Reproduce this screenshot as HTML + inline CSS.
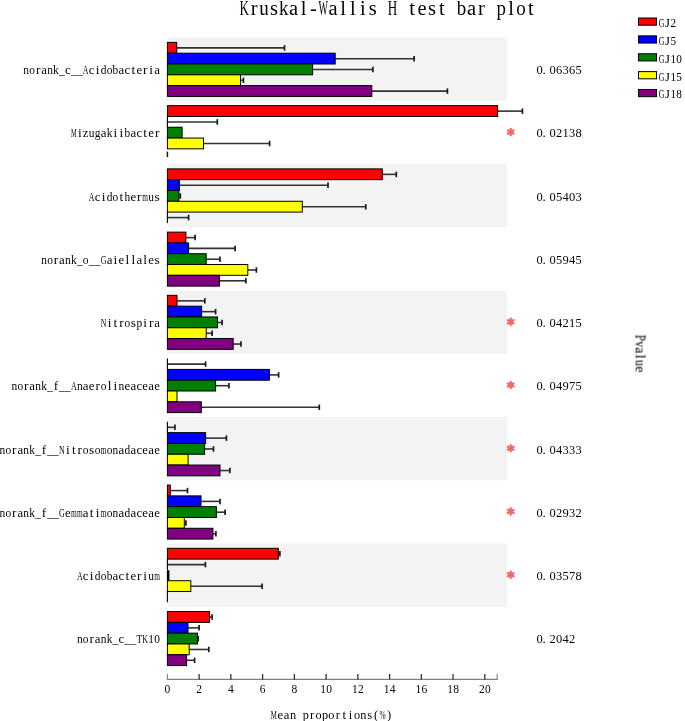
<!DOCTYPE html>
<html><head><meta charset="utf-8"><title>Kruskal-Wallis H test bar plot</title>
<style>html,body{margin:0;padding:0;background:#fff;overflow:hidden}svg{display:block}text{font-family:"Liberation Serif",serif}.t{opacity:0.995}</style>
</head><body>
<svg width="685" height="721" viewBox="0 0 685 721" font-family="Liberation Serif, serif"><rect x="167.40" y="37.60" width="339.60" height="63.24" fill="#f3f3f3"/>
<rect x="167.40" y="164.08" width="339.60" height="63.24" fill="#f3f3f3"/>
<rect x="167.40" y="290.56" width="339.60" height="63.24" fill="#f3f3f3"/>
<rect x="167.40" y="417.04" width="339.60" height="63.24" fill="#f3f3f3"/>
<rect x="167.40" y="543.52" width="339.60" height="63.24" fill="#f3f3f3"/>
<line x1="176.70" y1="47.90" x2="284.50" y2="47.90" stroke="#333" stroke-width="1.6"/>
<line x1="284.50" y1="45.15" x2="284.50" y2="50.65" stroke="#1a1a1a" stroke-width="1.7"/>
<rect x="167.40" y="42.40" width="9.30" height="10.80" fill="#ff0000" stroke="#000" stroke-width="1"/>
<line x1="335.20" y1="58.70" x2="414.10" y2="58.70" stroke="#333" stroke-width="1.6"/>
<line x1="414.10" y1="55.95" x2="414.10" y2="61.45" stroke="#1a1a1a" stroke-width="1.7"/>
<rect x="167.40" y="53.20" width="167.80" height="10.80" fill="#0000ff" stroke="#000" stroke-width="1"/>
<line x1="312.60" y1="69.50" x2="372.90" y2="69.50" stroke="#333" stroke-width="1.6"/>
<line x1="372.90" y1="66.75" x2="372.90" y2="72.25" stroke="#1a1a1a" stroke-width="1.7"/>
<rect x="167.40" y="64.00" width="145.20" height="10.80" fill="#008000" stroke="#000" stroke-width="1"/>
<line x1="240.50" y1="80.30" x2="243.40" y2="80.30" stroke="#333" stroke-width="1.6"/>
<line x1="243.40" y1="77.55" x2="243.40" y2="83.05" stroke="#1a1a1a" stroke-width="1.7"/>
<rect x="167.40" y="74.80" width="73.10" height="10.80" fill="#ffff00" stroke="#000" stroke-width="1"/>
<line x1="371.80" y1="91.10" x2="447.40" y2="91.10" stroke="#333" stroke-width="1.6"/>
<line x1="447.40" y1="88.35" x2="447.40" y2="93.85" stroke="#1a1a1a" stroke-width="1.7"/>
<rect x="167.40" y="85.60" width="204.40" height="10.80" fill="#800080" stroke="#000" stroke-width="1"/>
<line x1="497.60" y1="111.14" x2="522.40" y2="111.14" stroke="#333" stroke-width="1.6"/>
<line x1="522.40" y1="108.39" x2="522.40" y2="113.89" stroke="#1a1a1a" stroke-width="1.7"/>
<rect x="167.40" y="105.64" width="330.20" height="10.80" fill="#ff0000" stroke="#000" stroke-width="1"/>
<line x1="167.40" y1="121.94" x2="217.30" y2="121.94" stroke="#333" stroke-width="1.6"/>
<line x1="217.30" y1="119.19" x2="217.30" y2="124.69" stroke="#1a1a1a" stroke-width="1.7"/>
<line x1="167.40" y1="116.44" x2="167.40" y2="127.24" stroke="#000" stroke-width="1.1"/>
<rect x="167.40" y="127.24" width="14.70" height="10.80" fill="#008000" stroke="#000" stroke-width="1"/>
<line x1="203.50" y1="143.54" x2="269.60" y2="143.54" stroke="#333" stroke-width="1.6"/>
<line x1="269.60" y1="140.79" x2="269.60" y2="146.29" stroke="#1a1a1a" stroke-width="1.7"/>
<rect x="167.40" y="138.04" width="36.10" height="10.80" fill="#ffff00" stroke="#000" stroke-width="1"/>
<line x1="167.40" y1="151.59" x2="167.40" y2="157.09" stroke="#1a1a1a" stroke-width="1.5"/>
<g stroke="#f76666" stroke-width="2.3" stroke-linecap="round"><line x1="510.70" y1="128.86" x2="510.70" y2="135.26"/><line x1="507.93" y1="130.46" x2="513.47" y2="133.66"/><line x1="513.47" y1="130.46" x2="507.93" y2="133.66"/></g>
<line x1="382.30" y1="174.38" x2="396.30" y2="174.38" stroke="#333" stroke-width="1.6"/>
<line x1="396.30" y1="171.63" x2="396.30" y2="177.13" stroke="#1a1a1a" stroke-width="1.7"/>
<rect x="167.40" y="168.88" width="214.90" height="10.80" fill="#ff0000" stroke="#000" stroke-width="1"/>
<line x1="179.40" y1="185.18" x2="328.00" y2="185.18" stroke="#333" stroke-width="1.6"/>
<line x1="328.00" y1="182.43" x2="328.00" y2="187.93" stroke="#1a1a1a" stroke-width="1.7"/>
<rect x="167.40" y="179.68" width="12.00" height="10.80" fill="#0000ff" stroke="#000" stroke-width="1"/>
<line x1="178.90" y1="195.98" x2="180.30" y2="195.98" stroke="#333" stroke-width="1.6"/>
<line x1="180.30" y1="193.23" x2="180.30" y2="198.73" stroke="#1a1a1a" stroke-width="1.7"/>
<rect x="167.40" y="190.48" width="11.50" height="10.80" fill="#008000" stroke="#000" stroke-width="1"/>
<line x1="302.30" y1="206.78" x2="365.80" y2="206.78" stroke="#333" stroke-width="1.6"/>
<line x1="365.80" y1="204.03" x2="365.80" y2="209.53" stroke="#1a1a1a" stroke-width="1.7"/>
<rect x="167.40" y="201.28" width="134.90" height="10.80" fill="#ffff00" stroke="#000" stroke-width="1"/>
<line x1="167.40" y1="217.58" x2="188.60" y2="217.58" stroke="#333" stroke-width="1.6"/>
<line x1="188.60" y1="214.83" x2="188.60" y2="220.33" stroke="#1a1a1a" stroke-width="1.7"/>
<line x1="167.40" y1="212.08" x2="167.40" y2="222.88" stroke="#000" stroke-width="1.1"/>
<line x1="185.90" y1="237.62" x2="195.10" y2="237.62" stroke="#333" stroke-width="1.6"/>
<line x1="195.10" y1="234.87" x2="195.10" y2="240.37" stroke="#1a1a1a" stroke-width="1.7"/>
<rect x="167.40" y="232.12" width="18.50" height="10.80" fill="#ff0000" stroke="#000" stroke-width="1"/>
<line x1="188.60" y1="248.42" x2="235.10" y2="248.42" stroke="#333" stroke-width="1.6"/>
<line x1="235.10" y1="245.67" x2="235.10" y2="251.17" stroke="#1a1a1a" stroke-width="1.7"/>
<rect x="167.40" y="242.92" width="21.20" height="10.80" fill="#0000ff" stroke="#000" stroke-width="1"/>
<line x1="206.20" y1="259.22" x2="220.00" y2="259.22" stroke="#333" stroke-width="1.6"/>
<line x1="220.00" y1="256.47" x2="220.00" y2="261.97" stroke="#1a1a1a" stroke-width="1.7"/>
<rect x="167.40" y="253.72" width="38.80" height="10.80" fill="#008000" stroke="#000" stroke-width="1"/>
<line x1="247.80" y1="270.02" x2="256.40" y2="270.02" stroke="#333" stroke-width="1.6"/>
<line x1="256.40" y1="267.27" x2="256.40" y2="272.77" stroke="#1a1a1a" stroke-width="1.7"/>
<rect x="167.40" y="264.52" width="80.40" height="10.80" fill="#ffff00" stroke="#000" stroke-width="1"/>
<line x1="219.40" y1="280.82" x2="245.90" y2="280.82" stroke="#333" stroke-width="1.6"/>
<line x1="245.90" y1="278.07" x2="245.90" y2="283.57" stroke="#1a1a1a" stroke-width="1.7"/>
<rect x="167.40" y="275.32" width="52.00" height="10.80" fill="#800080" stroke="#000" stroke-width="1"/>
<line x1="177.00" y1="300.86" x2="204.80" y2="300.86" stroke="#333" stroke-width="1.6"/>
<line x1="204.80" y1="298.11" x2="204.80" y2="303.61" stroke="#1a1a1a" stroke-width="1.7"/>
<rect x="167.40" y="295.36" width="9.60" height="10.80" fill="#ff0000" stroke="#000" stroke-width="1"/>
<line x1="201.60" y1="311.66" x2="215.60" y2="311.66" stroke="#333" stroke-width="1.6"/>
<line x1="215.60" y1="308.91" x2="215.60" y2="314.41" stroke="#1a1a1a" stroke-width="1.7"/>
<rect x="167.40" y="306.16" width="34.20" height="10.80" fill="#0000ff" stroke="#000" stroke-width="1"/>
<line x1="217.50" y1="322.46" x2="222.10" y2="322.46" stroke="#333" stroke-width="1.6"/>
<line x1="222.10" y1="319.71" x2="222.10" y2="325.21" stroke="#1a1a1a" stroke-width="1.7"/>
<rect x="167.40" y="316.96" width="50.10" height="10.80" fill="#008000" stroke="#000" stroke-width="1"/>
<line x1="206.20" y1="333.26" x2="212.10" y2="333.26" stroke="#333" stroke-width="1.6"/>
<line x1="212.10" y1="330.51" x2="212.10" y2="336.01" stroke="#1a1a1a" stroke-width="1.7"/>
<rect x="167.40" y="327.76" width="38.80" height="10.80" fill="#ffff00" stroke="#000" stroke-width="1"/>
<line x1="233.20" y1="344.06" x2="241.00" y2="344.06" stroke="#333" stroke-width="1.6"/>
<line x1="241.00" y1="341.31" x2="241.00" y2="346.81" stroke="#1a1a1a" stroke-width="1.7"/>
<rect x="167.40" y="338.56" width="65.80" height="10.80" fill="#800080" stroke="#000" stroke-width="1"/>
<g stroke="#f76666" stroke-width="2.3" stroke-linecap="round"><line x1="510.70" y1="318.58" x2="510.70" y2="324.98"/><line x1="507.93" y1="320.18" x2="513.47" y2="323.38"/><line x1="513.47" y1="320.18" x2="507.93" y2="323.38"/></g>
<line x1="167.40" y1="364.10" x2="205.60" y2="364.10" stroke="#333" stroke-width="1.6"/>
<line x1="205.60" y1="361.35" x2="205.60" y2="366.85" stroke="#1a1a1a" stroke-width="1.7"/>
<line x1="167.40" y1="358.60" x2="167.40" y2="369.40" stroke="#000" stroke-width="1.1"/>
<line x1="269.40" y1="374.90" x2="278.60" y2="374.90" stroke="#333" stroke-width="1.6"/>
<line x1="278.60" y1="372.15" x2="278.60" y2="377.65" stroke="#1a1a1a" stroke-width="1.7"/>
<rect x="167.40" y="369.40" width="102.00" height="10.80" fill="#0000ff" stroke="#000" stroke-width="1"/>
<line x1="215.60" y1="385.70" x2="228.90" y2="385.70" stroke="#333" stroke-width="1.6"/>
<line x1="228.90" y1="382.95" x2="228.90" y2="388.45" stroke="#1a1a1a" stroke-width="1.7"/>
<rect x="167.40" y="380.20" width="48.20" height="10.80" fill="#008000" stroke="#000" stroke-width="1"/>
<rect x="167.40" y="391.00" width="9.60" height="10.80" fill="#ffff00" stroke="#000" stroke-width="1"/>
<line x1="201.30" y1="407.30" x2="319.30" y2="407.30" stroke="#333" stroke-width="1.6"/>
<line x1="319.30" y1="404.55" x2="319.30" y2="410.05" stroke="#1a1a1a" stroke-width="1.7"/>
<rect x="167.40" y="401.80" width="33.90" height="10.80" fill="#800080" stroke="#000" stroke-width="1"/>
<g stroke="#f76666" stroke-width="2.3" stroke-linecap="round"><line x1="510.70" y1="381.82" x2="510.70" y2="388.22"/><line x1="507.93" y1="383.42" x2="513.47" y2="386.62"/><line x1="513.47" y1="383.42" x2="507.93" y2="386.62"/></g>
<line x1="167.40" y1="427.34" x2="174.90" y2="427.34" stroke="#333" stroke-width="1.6"/>
<line x1="174.90" y1="424.59" x2="174.90" y2="430.09" stroke="#1a1a1a" stroke-width="1.7"/>
<line x1="167.40" y1="421.84" x2="167.40" y2="432.64" stroke="#000" stroke-width="1.1"/>
<line x1="205.60" y1="438.14" x2="226.40" y2="438.14" stroke="#333" stroke-width="1.6"/>
<line x1="226.40" y1="435.39" x2="226.40" y2="440.89" stroke="#1a1a1a" stroke-width="1.7"/>
<rect x="167.40" y="432.64" width="38.20" height="10.80" fill="#0000ff" stroke="#000" stroke-width="1"/>
<line x1="204.60" y1="448.94" x2="213.50" y2="448.94" stroke="#333" stroke-width="1.6"/>
<line x1="213.50" y1="446.19" x2="213.50" y2="451.69" stroke="#1a1a1a" stroke-width="1.7"/>
<rect x="167.40" y="443.44" width="37.20" height="10.80" fill="#008000" stroke="#000" stroke-width="1"/>
<rect x="167.40" y="454.24" width="20.70" height="10.80" fill="#ffff00" stroke="#000" stroke-width="1"/>
<line x1="220.00" y1="470.54" x2="229.90" y2="470.54" stroke="#333" stroke-width="1.6"/>
<line x1="229.90" y1="467.79" x2="229.90" y2="473.29" stroke="#1a1a1a" stroke-width="1.7"/>
<rect x="167.40" y="465.04" width="52.60" height="10.80" fill="#800080" stroke="#000" stroke-width="1"/>
<g stroke="#f76666" stroke-width="2.3" stroke-linecap="round"><line x1="510.70" y1="445.06" x2="510.70" y2="451.46"/><line x1="507.93" y1="446.66" x2="513.47" y2="449.86"/><line x1="513.47" y1="446.66" x2="507.93" y2="449.86"/></g>
<line x1="170.30" y1="490.58" x2="187.50" y2="490.58" stroke="#333" stroke-width="1.6"/>
<line x1="187.50" y1="487.83" x2="187.50" y2="493.33" stroke="#1a1a1a" stroke-width="1.7"/>
<rect x="167.40" y="485.08" width="2.90" height="10.80" fill="#ff0000" stroke="#000" stroke-width="1"/>
<line x1="201.00" y1="501.38" x2="220.00" y2="501.38" stroke="#333" stroke-width="1.6"/>
<line x1="220.00" y1="498.63" x2="220.00" y2="504.13" stroke="#1a1a1a" stroke-width="1.7"/>
<rect x="167.40" y="495.88" width="33.60" height="10.80" fill="#0000ff" stroke="#000" stroke-width="1"/>
<line x1="216.40" y1="512.18" x2="225.10" y2="512.18" stroke="#333" stroke-width="1.6"/>
<line x1="225.10" y1="509.43" x2="225.10" y2="514.93" stroke="#1a1a1a" stroke-width="1.7"/>
<rect x="167.40" y="506.68" width="49.00" height="10.80" fill="#008000" stroke="#000" stroke-width="1"/>
<line x1="184.30" y1="522.98" x2="185.90" y2="522.98" stroke="#333" stroke-width="1.6"/>
<line x1="185.90" y1="520.23" x2="185.90" y2="525.73" stroke="#1a1a1a" stroke-width="1.7"/>
<rect x="167.40" y="517.48" width="16.90" height="10.80" fill="#ffff00" stroke="#000" stroke-width="1"/>
<line x1="212.90" y1="533.78" x2="215.90" y2="533.78" stroke="#333" stroke-width="1.6"/>
<line x1="215.90" y1="531.03" x2="215.90" y2="536.53" stroke="#1a1a1a" stroke-width="1.7"/>
<rect x="167.40" y="528.28" width="45.50" height="10.80" fill="#800080" stroke="#000" stroke-width="1"/>
<g stroke="#f76666" stroke-width="2.3" stroke-linecap="round"><line x1="510.70" y1="508.30" x2="510.70" y2="514.70"/><line x1="507.93" y1="509.90" x2="513.47" y2="513.10"/><line x1="513.47" y1="509.90" x2="507.93" y2="513.10"/></g>
<line x1="278.30" y1="553.82" x2="279.90" y2="553.82" stroke="#333" stroke-width="1.6"/>
<line x1="279.90" y1="551.07" x2="279.90" y2="556.57" stroke="#1a1a1a" stroke-width="1.7"/>
<rect x="167.40" y="548.32" width="110.90" height="10.80" fill="#ff0000" stroke="#000" stroke-width="1"/>
<line x1="167.40" y1="564.62" x2="205.40" y2="564.62" stroke="#333" stroke-width="1.6"/>
<line x1="205.40" y1="561.87" x2="205.40" y2="567.37" stroke="#1a1a1a" stroke-width="1.7"/>
<line x1="167.40" y1="559.12" x2="167.40" y2="569.92" stroke="#000" stroke-width="1.1"/>
<rect x="166.90" y="570.22" width="2.50" height="10.20" fill="#000"/>
<line x1="190.80" y1="586.22" x2="262.10" y2="586.22" stroke="#333" stroke-width="1.6"/>
<line x1="262.10" y1="583.47" x2="262.10" y2="588.97" stroke="#1a1a1a" stroke-width="1.7"/>
<rect x="167.40" y="580.72" width="23.40" height="10.80" fill="#ffff00" stroke="#000" stroke-width="1"/>
<line x1="167.40" y1="591.52" x2="167.40" y2="602.32" stroke="#000" stroke-width="1.1"/>
<g stroke="#f76666" stroke-width="2.3" stroke-linecap="round"><line x1="510.70" y1="571.54" x2="510.70" y2="577.94"/><line x1="507.93" y1="573.14" x2="513.47" y2="576.34"/><line x1="513.47" y1="573.14" x2="507.93" y2="576.34"/></g>
<line x1="209.60" y1="617.06" x2="212.10" y2="617.06" stroke="#333" stroke-width="1.6"/>
<line x1="212.10" y1="614.31" x2="212.10" y2="619.81" stroke="#1a1a1a" stroke-width="1.7"/>
<rect x="167.40" y="611.56" width="42.20" height="10.80" fill="#ff0000" stroke="#000" stroke-width="1"/>
<line x1="188.00" y1="627.86" x2="199.10" y2="627.86" stroke="#333" stroke-width="1.6"/>
<line x1="199.10" y1="625.11" x2="199.10" y2="630.61" stroke="#1a1a1a" stroke-width="1.7"/>
<rect x="167.40" y="622.36" width="20.60" height="10.80" fill="#0000ff" stroke="#000" stroke-width="1"/>
<line x1="197.50" y1="638.66" x2="198.20" y2="638.66" stroke="#333" stroke-width="1.6"/>
<line x1="198.20" y1="635.91" x2="198.20" y2="641.41" stroke="#1a1a1a" stroke-width="1.7"/>
<rect x="167.40" y="633.16" width="30.10" height="10.80" fill="#008000" stroke="#000" stroke-width="1"/>
<line x1="189.20" y1="649.46" x2="208.80" y2="649.46" stroke="#333" stroke-width="1.6"/>
<line x1="208.80" y1="646.71" x2="208.80" y2="652.21" stroke="#1a1a1a" stroke-width="1.7"/>
<rect x="167.40" y="643.96" width="21.80" height="10.80" fill="#ffff00" stroke="#000" stroke-width="1"/>
<line x1="186.60" y1="660.26" x2="194.60" y2="660.26" stroke="#333" stroke-width="1.6"/>
<line x1="194.60" y1="657.51" x2="194.60" y2="663.01" stroke="#1a1a1a" stroke-width="1.7"/>
<rect x="167.40" y="654.76" width="19.20" height="10.80" fill="#800080" stroke="#000" stroke-width="1"/>
<line x1="166.90" y1="679.40" x2="497.60" y2="679.40" stroke="#808080" stroke-width="1.1"/>
<line x1="167.40" y1="674.00" x2="167.40" y2="679.40" stroke="#808080" stroke-width="1.1"/>
<line x1="497.20" y1="674.00" x2="497.20" y2="679.40" stroke="#808080" stroke-width="1.1"/>
<line x1="199.14" y1="674.00" x2="199.14" y2="679.40" stroke="#222" stroke-width="1.2"/>
<line x1="230.88" y1="674.00" x2="230.88" y2="679.40" stroke="#222" stroke-width="1.2"/>
<line x1="262.62" y1="674.00" x2="262.62" y2="679.40" stroke="#222" stroke-width="1.2"/>
<line x1="294.36" y1="674.00" x2="294.36" y2="679.40" stroke="#222" stroke-width="1.2"/>
<line x1="326.10" y1="674.00" x2="326.10" y2="679.40" stroke="#222" stroke-width="1.2"/>
<line x1="357.84" y1="674.00" x2="357.84" y2="679.40" stroke="#222" stroke-width="1.2"/>
<line x1="389.58" y1="674.00" x2="389.58" y2="679.40" stroke="#222" stroke-width="1.2"/>
<line x1="421.32" y1="674.00" x2="421.32" y2="679.40" stroke="#222" stroke-width="1.2"/>
<line x1="453.06" y1="674.00" x2="453.06" y2="679.40" stroke="#222" stroke-width="1.2"/>
<line x1="484.80" y1="674.00" x2="484.80" y2="679.40" stroke="#222" stroke-width="1.2"/>
<rect x="638.5" y="18.00" width="18" height="7.2" fill="#ff0000" stroke="#000" stroke-width="1"/>
<rect x="638.5" y="35.87" width="18" height="7.2" fill="#0000ff" stroke="#000" stroke-width="1"/>
<rect x="638.5" y="53.74" width="18" height="7.2" fill="#008000" stroke="#000" stroke-width="1"/>
<rect x="638.5" y="71.61" width="18" height="7.2" fill="#ffff00" stroke="#000" stroke-width="1"/>
<rect x="638.5" y="89.48" width="18" height="7.2" fill="#800080" stroke="#000" stroke-width="1"/>
<g class="t" >
<text x="35.89 95.76 131.46 142.99 149.31" y="74.22" font-size="13.40" fill="#000" >ritri</text><text x="23.37" y="74.22" font-size="13.40" fill="#000" textLength="5.71" lengthAdjust="spacingAndGlyphs" >n</text><text x="29.32" y="74.22" font-size="13.40" fill="#000" textLength="5.71" lengthAdjust="spacingAndGlyphs" >o</text><text x="41.22" y="74.22" font-size="13.40" fill="#000" textLength="5.71" lengthAdjust="spacingAndGlyphs" >a</text><text x="47.17" y="74.22" font-size="13.40" fill="#000" textLength="5.71" lengthAdjust="spacingAndGlyphs" >n</text><text x="53.12" y="74.22" font-size="13.40" fill="#000" textLength="5.71" lengthAdjust="spacingAndGlyphs" >k</text><text x="59.07" y="74.22" font-size="13.40" fill="#000" textLength="5.71" lengthAdjust="spacingAndGlyphs" >_</text><text x="65.02" y="74.22" font-size="13.40" fill="#000" textLength="5.71" lengthAdjust="spacingAndGlyphs" >c</text><text x="70.97" y="74.22" font-size="13.40" fill="#000" textLength="5.71" lengthAdjust="spacingAndGlyphs" >_</text><text x="76.92" y="74.22" font-size="13.40" fill="#000" textLength="5.71" lengthAdjust="spacingAndGlyphs" >_</text><text x="82.87" y="74.22" font-size="13.40" fill="#000" textLength="5.71" lengthAdjust="spacingAndGlyphs" >A</text><text x="88.82" y="74.22" font-size="13.40" fill="#000" textLength="5.71" lengthAdjust="spacingAndGlyphs" >c</text><text x="100.72" y="74.22" font-size="13.40" fill="#000" textLength="5.71" lengthAdjust="spacingAndGlyphs" >d</text><text x="106.67" y="74.22" font-size="13.40" fill="#000" textLength="5.71" lengthAdjust="spacingAndGlyphs" >o</text><text x="112.62" y="74.22" font-size="13.40" fill="#000" textLength="5.71" lengthAdjust="spacingAndGlyphs" >b</text><text x="118.57" y="74.22" font-size="13.40" fill="#000" textLength="5.71" lengthAdjust="spacingAndGlyphs" >a</text><text x="124.52" y="74.22" font-size="13.40" fill="#000" textLength="5.71" lengthAdjust="spacingAndGlyphs" >c</text><text x="136.42" y="74.22" font-size="13.40" fill="#000" textLength="5.71" lengthAdjust="spacingAndGlyphs" >e</text><text x="154.27" y="74.22" font-size="13.40" fill="#000" textLength="5.71" lengthAdjust="spacingAndGlyphs" >a</text>
<text x="542.59" y="74.12" font-size="13.10" fill="#000" >.</text><text x="536.43" y="74.12" font-size="13.10" fill="#000" textLength="6.24" lengthAdjust="spacingAndGlyphs" >0</text><text x="549.43" y="74.12" font-size="13.10" fill="#000" textLength="6.24" lengthAdjust="spacingAndGlyphs" >0</text><text x="555.93" y="74.12" font-size="13.10" fill="#000" textLength="6.24" lengthAdjust="spacingAndGlyphs" >6</text><text x="562.43" y="74.12" font-size="13.10" fill="#000" textLength="6.24" lengthAdjust="spacingAndGlyphs" >3</text><text x="568.93" y="74.12" font-size="13.10" fill="#000" textLength="6.24" lengthAdjust="spacingAndGlyphs" >6</text><text x="575.43" y="74.12" font-size="13.10" fill="#000" textLength="6.24" lengthAdjust="spacingAndGlyphs" >5</text>
<text x="77.91 113.61 119.56 143.36 154.89" y="137.46" font-size="13.40" fill="#000" >iiitr</text><text x="70.97" y="137.46" font-size="13.40" fill="#000" textLength="5.71" lengthAdjust="spacingAndGlyphs" >M</text><text x="82.87" y="137.46" font-size="13.40" fill="#000" textLength="5.71" lengthAdjust="spacingAndGlyphs" >z</text><text x="88.82" y="137.46" font-size="13.40" fill="#000" textLength="5.71" lengthAdjust="spacingAndGlyphs" >u</text><text x="94.77" y="137.46" font-size="13.40" fill="#000" textLength="5.71" lengthAdjust="spacingAndGlyphs" >g</text><text x="100.72" y="137.46" font-size="13.40" fill="#000" textLength="5.71" lengthAdjust="spacingAndGlyphs" >a</text><text x="106.67" y="137.46" font-size="13.40" fill="#000" textLength="5.71" lengthAdjust="spacingAndGlyphs" >k</text><text x="124.52" y="137.46" font-size="13.40" fill="#000" textLength="5.71" lengthAdjust="spacingAndGlyphs" >b</text><text x="130.47" y="137.46" font-size="13.40" fill="#000" textLength="5.71" lengthAdjust="spacingAndGlyphs" >a</text><text x="136.42" y="137.46" font-size="13.40" fill="#000" textLength="5.71" lengthAdjust="spacingAndGlyphs" >c</text><text x="148.32" y="137.46" font-size="13.40" fill="#000" textLength="5.71" lengthAdjust="spacingAndGlyphs" >e</text>
<text x="542.59" y="137.36" font-size="13.10" fill="#000" >.</text><text x="536.43" y="137.36" font-size="13.10" fill="#000" textLength="6.24" lengthAdjust="spacingAndGlyphs" >0</text><text x="549.43" y="137.36" font-size="13.10" fill="#000" textLength="6.24" lengthAdjust="spacingAndGlyphs" >0</text><text x="555.93" y="137.36" font-size="13.10" fill="#000" textLength="6.24" lengthAdjust="spacingAndGlyphs" >2</text><text x="562.43" y="137.36" font-size="13.10" fill="#000" textLength="6.24" lengthAdjust="spacingAndGlyphs" >1</text><text x="568.93" y="137.36" font-size="13.10" fill="#000" textLength="6.24" lengthAdjust="spacingAndGlyphs" >3</text><text x="575.43" y="137.36" font-size="13.10" fill="#000" textLength="6.24" lengthAdjust="spacingAndGlyphs" >8</text>
<text x="101.71 119.56 137.04 154.52" y="200.70" font-size="13.40" fill="#000" >itrs</text><text x="88.82" y="200.70" font-size="13.40" fill="#000" textLength="5.71" lengthAdjust="spacingAndGlyphs" >A</text><text x="94.77" y="200.70" font-size="13.40" fill="#000" textLength="5.71" lengthAdjust="spacingAndGlyphs" >c</text><text x="106.67" y="200.70" font-size="13.40" fill="#000" textLength="5.71" lengthAdjust="spacingAndGlyphs" >d</text><text x="112.62" y="200.70" font-size="13.40" fill="#000" textLength="5.71" lengthAdjust="spacingAndGlyphs" >o</text><text x="124.52" y="200.70" font-size="13.40" fill="#000" textLength="5.71" lengthAdjust="spacingAndGlyphs" >h</text><text x="130.47" y="200.70" font-size="13.40" fill="#000" textLength="5.71" lengthAdjust="spacingAndGlyphs" >e</text><text x="142.37" y="200.70" font-size="13.40" fill="#000" textLength="5.71" lengthAdjust="spacingAndGlyphs" >m</text><text x="148.32" y="200.70" font-size="13.40" fill="#000" textLength="5.71" lengthAdjust="spacingAndGlyphs" >u</text>
<text x="542.59" y="200.60" font-size="13.10" fill="#000" >.</text><text x="536.43" y="200.60" font-size="13.10" fill="#000" textLength="6.24" lengthAdjust="spacingAndGlyphs" >0</text><text x="549.43" y="200.60" font-size="13.10" fill="#000" textLength="6.24" lengthAdjust="spacingAndGlyphs" >0</text><text x="555.93" y="200.60" font-size="13.10" fill="#000" textLength="6.24" lengthAdjust="spacingAndGlyphs" >5</text><text x="562.43" y="200.60" font-size="13.10" fill="#000" textLength="6.24" lengthAdjust="spacingAndGlyphs" >4</text><text x="568.93" y="200.60" font-size="13.10" fill="#000" textLength="6.24" lengthAdjust="spacingAndGlyphs" >0</text><text x="575.43" y="200.60" font-size="13.10" fill="#000" textLength="6.24" lengthAdjust="spacingAndGlyphs" >3</text>
<text x="53.74 113.61 125.51 131.46 143.36 154.52" y="263.94" font-size="13.40" fill="#000" >rillls</text><text x="41.22" y="263.94" font-size="13.40" fill="#000" textLength="5.71" lengthAdjust="spacingAndGlyphs" >n</text><text x="47.17" y="263.94" font-size="13.40" fill="#000" textLength="5.71" lengthAdjust="spacingAndGlyphs" >o</text><text x="59.07" y="263.94" font-size="13.40" fill="#000" textLength="5.71" lengthAdjust="spacingAndGlyphs" >a</text><text x="65.02" y="263.94" font-size="13.40" fill="#000" textLength="5.71" lengthAdjust="spacingAndGlyphs" >n</text><text x="70.97" y="263.94" font-size="13.40" fill="#000" textLength="5.71" lengthAdjust="spacingAndGlyphs" >k</text><text x="76.92" y="263.94" font-size="13.40" fill="#000" textLength="5.71" lengthAdjust="spacingAndGlyphs" >_</text><text x="82.87" y="263.94" font-size="13.40" fill="#000" textLength="5.71" lengthAdjust="spacingAndGlyphs" >o</text><text x="88.82" y="263.94" font-size="13.40" fill="#000" textLength="5.71" lengthAdjust="spacingAndGlyphs" >_</text><text x="94.77" y="263.94" font-size="13.40" fill="#000" textLength="5.71" lengthAdjust="spacingAndGlyphs" >_</text><text x="100.72" y="263.94" font-size="13.40" fill="#000" textLength="5.71" lengthAdjust="spacingAndGlyphs" >G</text><text x="106.67" y="263.94" font-size="13.40" fill="#000" textLength="5.71" lengthAdjust="spacingAndGlyphs" >a</text><text x="118.57" y="263.94" font-size="13.40" fill="#000" textLength="5.71" lengthAdjust="spacingAndGlyphs" >e</text><text x="136.42" y="263.94" font-size="13.40" fill="#000" textLength="5.71" lengthAdjust="spacingAndGlyphs" >a</text><text x="148.32" y="263.94" font-size="13.40" fill="#000" textLength="5.71" lengthAdjust="spacingAndGlyphs" >e</text>
<text x="542.59" y="263.84" font-size="13.10" fill="#000" >.</text><text x="536.43" y="263.84" font-size="13.10" fill="#000" textLength="6.24" lengthAdjust="spacingAndGlyphs" >0</text><text x="549.43" y="263.84" font-size="13.10" fill="#000" textLength="6.24" lengthAdjust="spacingAndGlyphs" >0</text><text x="555.93" y="263.84" font-size="13.10" fill="#000" textLength="6.24" lengthAdjust="spacingAndGlyphs" >5</text><text x="562.43" y="263.84" font-size="13.10" fill="#000" textLength="6.24" lengthAdjust="spacingAndGlyphs" >9</text><text x="568.93" y="263.84" font-size="13.10" fill="#000" textLength="6.24" lengthAdjust="spacingAndGlyphs" >4</text><text x="575.43" y="263.84" font-size="13.10" fill="#000" textLength="6.24" lengthAdjust="spacingAndGlyphs" >5</text>
<text x="107.66 113.61 119.19 130.72 143.36 148.94" y="327.18" font-size="13.40" fill="#000" >itrsir</text><text x="100.72" y="327.18" font-size="13.40" fill="#000" textLength="5.71" lengthAdjust="spacingAndGlyphs" >N</text><text x="124.52" y="327.18" font-size="13.40" fill="#000" textLength="5.71" lengthAdjust="spacingAndGlyphs" >o</text><text x="136.42" y="327.18" font-size="13.40" fill="#000" textLength="5.71" lengthAdjust="spacingAndGlyphs" >p</text><text x="154.27" y="327.18" font-size="13.40" fill="#000" textLength="5.71" lengthAdjust="spacingAndGlyphs" >a</text>
<text x="542.59" y="327.08" font-size="13.10" fill="#000" >.</text><text x="536.43" y="327.08" font-size="13.10" fill="#000" textLength="6.24" lengthAdjust="spacingAndGlyphs" >0</text><text x="549.43" y="327.08" font-size="13.10" fill="#000" textLength="6.24" lengthAdjust="spacingAndGlyphs" >0</text><text x="555.93" y="327.08" font-size="13.10" fill="#000" textLength="6.24" lengthAdjust="spacingAndGlyphs" >4</text><text x="562.43" y="327.08" font-size="13.10" fill="#000" textLength="6.24" lengthAdjust="spacingAndGlyphs" >2</text><text x="568.93" y="327.08" font-size="13.10" fill="#000" textLength="6.24" lengthAdjust="spacingAndGlyphs" >1</text><text x="575.43" y="327.08" font-size="13.10" fill="#000" textLength="6.24" lengthAdjust="spacingAndGlyphs" >5</text>
<text x="23.99 53.74 95.39 107.66 113.61" y="390.42" font-size="13.40" fill="#000" >rfrli</text><text x="11.47" y="390.42" font-size="13.40" fill="#000" textLength="5.71" lengthAdjust="spacingAndGlyphs" >n</text><text x="17.42" y="390.42" font-size="13.40" fill="#000" textLength="5.71" lengthAdjust="spacingAndGlyphs" >o</text><text x="29.32" y="390.42" font-size="13.40" fill="#000" textLength="5.71" lengthAdjust="spacingAndGlyphs" >a</text><text x="35.27" y="390.42" font-size="13.40" fill="#000" textLength="5.71" lengthAdjust="spacingAndGlyphs" >n</text><text x="41.22" y="390.42" font-size="13.40" fill="#000" textLength="5.71" lengthAdjust="spacingAndGlyphs" >k</text><text x="47.17" y="390.42" font-size="13.40" fill="#000" textLength="5.71" lengthAdjust="spacingAndGlyphs" >_</text><text x="59.07" y="390.42" font-size="13.40" fill="#000" textLength="5.71" lengthAdjust="spacingAndGlyphs" >_</text><text x="65.02" y="390.42" font-size="13.40" fill="#000" textLength="5.71" lengthAdjust="spacingAndGlyphs" >_</text><text x="70.97" y="390.42" font-size="13.40" fill="#000" textLength="5.71" lengthAdjust="spacingAndGlyphs" >A</text><text x="76.92" y="390.42" font-size="13.40" fill="#000" textLength="5.71" lengthAdjust="spacingAndGlyphs" >n</text><text x="82.87" y="390.42" font-size="13.40" fill="#000" textLength="5.71" lengthAdjust="spacingAndGlyphs" >a</text><text x="88.82" y="390.42" font-size="13.40" fill="#000" textLength="5.71" lengthAdjust="spacingAndGlyphs" >e</text><text x="100.72" y="390.42" font-size="13.40" fill="#000" textLength="5.71" lengthAdjust="spacingAndGlyphs" >o</text><text x="118.57" y="390.42" font-size="13.40" fill="#000" textLength="5.71" lengthAdjust="spacingAndGlyphs" >n</text><text x="124.52" y="390.42" font-size="13.40" fill="#000" textLength="5.71" lengthAdjust="spacingAndGlyphs" >e</text><text x="130.47" y="390.42" font-size="13.40" fill="#000" textLength="5.71" lengthAdjust="spacingAndGlyphs" >a</text><text x="136.42" y="390.42" font-size="13.40" fill="#000" textLength="5.71" lengthAdjust="spacingAndGlyphs" >c</text><text x="142.37" y="390.42" font-size="13.40" fill="#000" textLength="5.71" lengthAdjust="spacingAndGlyphs" >e</text><text x="148.32" y="390.42" font-size="13.40" fill="#000" textLength="5.71" lengthAdjust="spacingAndGlyphs" >a</text><text x="154.27" y="390.42" font-size="13.40" fill="#000" textLength="5.71" lengthAdjust="spacingAndGlyphs" >e</text>
<text x="542.59" y="390.32" font-size="13.10" fill="#000" >.</text><text x="536.43" y="390.32" font-size="13.10" fill="#000" textLength="6.24" lengthAdjust="spacingAndGlyphs" >0</text><text x="549.43" y="390.32" font-size="13.10" fill="#000" textLength="6.24" lengthAdjust="spacingAndGlyphs" >0</text><text x="555.93" y="390.32" font-size="13.10" fill="#000" textLength="6.24" lengthAdjust="spacingAndGlyphs" >4</text><text x="562.43" y="390.32" font-size="13.10" fill="#000" textLength="6.24" lengthAdjust="spacingAndGlyphs" >9</text><text x="568.93" y="390.32" font-size="13.10" fill="#000" textLength="6.24" lengthAdjust="spacingAndGlyphs" >7</text><text x="575.43" y="390.32" font-size="13.10" fill="#000" textLength="6.24" lengthAdjust="spacingAndGlyphs" >5</text>
<text x="12.09 41.84 66.01 71.96 77.54 89.07" y="453.66" font-size="13.40" fill="#000" >rfitrs</text><text x="-0.43" y="453.66" font-size="13.40" fill="#000" textLength="5.71" lengthAdjust="spacingAndGlyphs" >n</text><text x="5.52" y="453.66" font-size="13.40" fill="#000" textLength="5.71" lengthAdjust="spacingAndGlyphs" >o</text><text x="17.42" y="453.66" font-size="13.40" fill="#000" textLength="5.71" lengthAdjust="spacingAndGlyphs" >a</text><text x="23.37" y="453.66" font-size="13.40" fill="#000" textLength="5.71" lengthAdjust="spacingAndGlyphs" >n</text><text x="29.32" y="453.66" font-size="13.40" fill="#000" textLength="5.71" lengthAdjust="spacingAndGlyphs" >k</text><text x="35.27" y="453.66" font-size="13.40" fill="#000" textLength="5.71" lengthAdjust="spacingAndGlyphs" >_</text><text x="47.17" y="453.66" font-size="13.40" fill="#000" textLength="5.71" lengthAdjust="spacingAndGlyphs" >_</text><text x="53.12" y="453.66" font-size="13.40" fill="#000" textLength="5.71" lengthAdjust="spacingAndGlyphs" >_</text><text x="59.07" y="453.66" font-size="13.40" fill="#000" textLength="5.71" lengthAdjust="spacingAndGlyphs" >N</text><text x="82.87" y="453.66" font-size="13.40" fill="#000" textLength="5.71" lengthAdjust="spacingAndGlyphs" >o</text><text x="94.77" y="453.66" font-size="13.40" fill="#000" textLength="5.71" lengthAdjust="spacingAndGlyphs" >o</text><text x="100.72" y="453.66" font-size="13.40" fill="#000" textLength="5.71" lengthAdjust="spacingAndGlyphs" >m</text><text x="106.67" y="453.66" font-size="13.40" fill="#000" textLength="5.71" lengthAdjust="spacingAndGlyphs" >o</text><text x="112.62" y="453.66" font-size="13.40" fill="#000" textLength="5.71" lengthAdjust="spacingAndGlyphs" >n</text><text x="118.57" y="453.66" font-size="13.40" fill="#000" textLength="5.71" lengthAdjust="spacingAndGlyphs" >a</text><text x="124.52" y="453.66" font-size="13.40" fill="#000" textLength="5.71" lengthAdjust="spacingAndGlyphs" >d</text><text x="130.47" y="453.66" font-size="13.40" fill="#000" textLength="5.71" lengthAdjust="spacingAndGlyphs" >a</text><text x="136.42" y="453.66" font-size="13.40" fill="#000" textLength="5.71" lengthAdjust="spacingAndGlyphs" >c</text><text x="142.37" y="453.66" font-size="13.40" fill="#000" textLength="5.71" lengthAdjust="spacingAndGlyphs" >e</text><text x="148.32" y="453.66" font-size="13.40" fill="#000" textLength="5.71" lengthAdjust="spacingAndGlyphs" >a</text><text x="154.27" y="453.66" font-size="13.40" fill="#000" textLength="5.71" lengthAdjust="spacingAndGlyphs" >e</text>
<text x="542.59" y="453.56" font-size="13.10" fill="#000" >.</text><text x="536.43" y="453.56" font-size="13.10" fill="#000" textLength="6.24" lengthAdjust="spacingAndGlyphs" >0</text><text x="549.43" y="453.56" font-size="13.10" fill="#000" textLength="6.24" lengthAdjust="spacingAndGlyphs" >0</text><text x="555.93" y="453.56" font-size="13.10" fill="#000" textLength="6.24" lengthAdjust="spacingAndGlyphs" >4</text><text x="562.43" y="453.56" font-size="13.10" fill="#000" textLength="6.24" lengthAdjust="spacingAndGlyphs" >3</text><text x="568.93" y="453.56" font-size="13.10" fill="#000" textLength="6.24" lengthAdjust="spacingAndGlyphs" >3</text><text x="575.43" y="453.56" font-size="13.10" fill="#000" textLength="6.24" lengthAdjust="spacingAndGlyphs" >3</text>
<text x="12.09 41.84 89.81 95.76" y="516.90" font-size="13.40" fill="#000" >rfti</text><text x="-0.43" y="516.90" font-size="13.40" fill="#000" textLength="5.71" lengthAdjust="spacingAndGlyphs" >n</text><text x="5.52" y="516.90" font-size="13.40" fill="#000" textLength="5.71" lengthAdjust="spacingAndGlyphs" >o</text><text x="17.42" y="516.90" font-size="13.40" fill="#000" textLength="5.71" lengthAdjust="spacingAndGlyphs" >a</text><text x="23.37" y="516.90" font-size="13.40" fill="#000" textLength="5.71" lengthAdjust="spacingAndGlyphs" >n</text><text x="29.32" y="516.90" font-size="13.40" fill="#000" textLength="5.71" lengthAdjust="spacingAndGlyphs" >k</text><text x="35.27" y="516.90" font-size="13.40" fill="#000" textLength="5.71" lengthAdjust="spacingAndGlyphs" >_</text><text x="47.17" y="516.90" font-size="13.40" fill="#000" textLength="5.71" lengthAdjust="spacingAndGlyphs" >_</text><text x="53.12" y="516.90" font-size="13.40" fill="#000" textLength="5.71" lengthAdjust="spacingAndGlyphs" >_</text><text x="59.07" y="516.90" font-size="13.40" fill="#000" textLength="5.71" lengthAdjust="spacingAndGlyphs" >G</text><text x="65.02" y="516.90" font-size="13.40" fill="#000" textLength="5.71" lengthAdjust="spacingAndGlyphs" >e</text><text x="70.97" y="516.90" font-size="13.40" fill="#000" textLength="5.71" lengthAdjust="spacingAndGlyphs" >m</text><text x="76.92" y="516.90" font-size="13.40" fill="#000" textLength="5.71" lengthAdjust="spacingAndGlyphs" >m</text><text x="82.87" y="516.90" font-size="13.40" fill="#000" textLength="5.71" lengthAdjust="spacingAndGlyphs" >a</text><text x="100.72" y="516.90" font-size="13.40" fill="#000" textLength="5.71" lengthAdjust="spacingAndGlyphs" >m</text><text x="106.67" y="516.90" font-size="13.40" fill="#000" textLength="5.71" lengthAdjust="spacingAndGlyphs" >o</text><text x="112.62" y="516.90" font-size="13.40" fill="#000" textLength="5.71" lengthAdjust="spacingAndGlyphs" >n</text><text x="118.57" y="516.90" font-size="13.40" fill="#000" textLength="5.71" lengthAdjust="spacingAndGlyphs" >a</text><text x="124.52" y="516.90" font-size="13.40" fill="#000" textLength="5.71" lengthAdjust="spacingAndGlyphs" >d</text><text x="130.47" y="516.90" font-size="13.40" fill="#000" textLength="5.71" lengthAdjust="spacingAndGlyphs" >a</text><text x="136.42" y="516.90" font-size="13.40" fill="#000" textLength="5.71" lengthAdjust="spacingAndGlyphs" >c</text><text x="142.37" y="516.90" font-size="13.40" fill="#000" textLength="5.71" lengthAdjust="spacingAndGlyphs" >e</text><text x="148.32" y="516.90" font-size="13.40" fill="#000" textLength="5.71" lengthAdjust="spacingAndGlyphs" >a</text><text x="154.27" y="516.90" font-size="13.40" fill="#000" textLength="5.71" lengthAdjust="spacingAndGlyphs" >e</text>
<text x="542.59" y="516.80" font-size="13.10" fill="#000" >.</text><text x="536.43" y="516.80" font-size="13.10" fill="#000" textLength="6.24" lengthAdjust="spacingAndGlyphs" >0</text><text x="549.43" y="516.80" font-size="13.10" fill="#000" textLength="6.24" lengthAdjust="spacingAndGlyphs" >0</text><text x="555.93" y="516.80" font-size="13.10" fill="#000" textLength="6.24" lengthAdjust="spacingAndGlyphs" >2</text><text x="562.43" y="516.80" font-size="13.10" fill="#000" textLength="6.24" lengthAdjust="spacingAndGlyphs" >9</text><text x="568.93" y="516.80" font-size="13.10" fill="#000" textLength="6.24" lengthAdjust="spacingAndGlyphs" >3</text><text x="575.43" y="516.80" font-size="13.10" fill="#000" textLength="6.24" lengthAdjust="spacingAndGlyphs" >2</text>
<text x="89.81 125.51 137.04 143.36" y="580.14" font-size="13.40" fill="#000" >itri</text><text x="76.92" y="580.14" font-size="13.40" fill="#000" textLength="5.71" lengthAdjust="spacingAndGlyphs" >A</text><text x="82.87" y="580.14" font-size="13.40" fill="#000" textLength="5.71" lengthAdjust="spacingAndGlyphs" >c</text><text x="94.77" y="580.14" font-size="13.40" fill="#000" textLength="5.71" lengthAdjust="spacingAndGlyphs" >d</text><text x="100.72" y="580.14" font-size="13.40" fill="#000" textLength="5.71" lengthAdjust="spacingAndGlyphs" >o</text><text x="106.67" y="580.14" font-size="13.40" fill="#000" textLength="5.71" lengthAdjust="spacingAndGlyphs" >b</text><text x="112.62" y="580.14" font-size="13.40" fill="#000" textLength="5.71" lengthAdjust="spacingAndGlyphs" >a</text><text x="118.57" y="580.14" font-size="13.40" fill="#000" textLength="5.71" lengthAdjust="spacingAndGlyphs" >c</text><text x="130.47" y="580.14" font-size="13.40" fill="#000" textLength="5.71" lengthAdjust="spacingAndGlyphs" >e</text><text x="148.32" y="580.14" font-size="13.40" fill="#000" textLength="5.71" lengthAdjust="spacingAndGlyphs" >u</text><text x="154.27" y="580.14" font-size="13.40" fill="#000" textLength="5.71" lengthAdjust="spacingAndGlyphs" >m</text>
<text x="542.59" y="580.04" font-size="13.10" fill="#000" >.</text><text x="536.43" y="580.04" font-size="13.10" fill="#000" textLength="6.24" lengthAdjust="spacingAndGlyphs" >0</text><text x="549.43" y="580.04" font-size="13.10" fill="#000" textLength="6.24" lengthAdjust="spacingAndGlyphs" >0</text><text x="555.93" y="580.04" font-size="13.10" fill="#000" textLength="6.24" lengthAdjust="spacingAndGlyphs" >3</text><text x="562.43" y="580.04" font-size="13.10" fill="#000" textLength="6.24" lengthAdjust="spacingAndGlyphs" >5</text><text x="568.93" y="580.04" font-size="13.10" fill="#000" textLength="6.24" lengthAdjust="spacingAndGlyphs" >7</text><text x="575.43" y="580.04" font-size="13.10" fill="#000" textLength="6.24" lengthAdjust="spacingAndGlyphs" >8</text>
<text x="89.44" y="643.38" font-size="13.40" fill="#000" >r</text><text x="76.92" y="643.38" font-size="13.40" fill="#000" textLength="5.71" lengthAdjust="spacingAndGlyphs" >n</text><text x="82.87" y="643.38" font-size="13.40" fill="#000" textLength="5.71" lengthAdjust="spacingAndGlyphs" >o</text><text x="94.77" y="643.38" font-size="13.40" fill="#000" textLength="5.71" lengthAdjust="spacingAndGlyphs" >a</text><text x="100.72" y="643.38" font-size="13.40" fill="#000" textLength="5.71" lengthAdjust="spacingAndGlyphs" >n</text><text x="106.67" y="643.38" font-size="13.40" fill="#000" textLength="5.71" lengthAdjust="spacingAndGlyphs" >k</text><text x="112.62" y="643.38" font-size="13.40" fill="#000" textLength="5.71" lengthAdjust="spacingAndGlyphs" >_</text><text x="118.57" y="643.38" font-size="13.40" fill="#000" textLength="5.71" lengthAdjust="spacingAndGlyphs" >c</text><text x="124.52" y="643.38" font-size="13.40" fill="#000" textLength="5.71" lengthAdjust="spacingAndGlyphs" >_</text><text x="130.47" y="643.38" font-size="13.40" fill="#000" textLength="5.71" lengthAdjust="spacingAndGlyphs" >_</text><text x="136.42" y="643.38" font-size="13.40" fill="#000" textLength="5.71" lengthAdjust="spacingAndGlyphs" >T</text><text x="142.37" y="643.38" font-size="13.40" fill="#000" textLength="5.71" lengthAdjust="spacingAndGlyphs" >K</text><text x="148.32" y="643.38" font-size="13.40" fill="#000" textLength="5.71" lengthAdjust="spacingAndGlyphs" >1</text><text x="154.27" y="643.38" font-size="13.40" fill="#000" textLength="5.71" lengthAdjust="spacingAndGlyphs" >0</text>
<text x="542.59" y="643.28" font-size="13.10" fill="#000" >.</text><text x="536.43" y="643.28" font-size="13.10" fill="#000" textLength="6.24" lengthAdjust="spacingAndGlyphs" >0</text><text x="549.43" y="643.28" font-size="13.10" fill="#000" textLength="6.24" lengthAdjust="spacingAndGlyphs" >2</text><text x="555.93" y="643.28" font-size="13.10" fill="#000" textLength="6.24" lengthAdjust="spacingAndGlyphs" >0</text><text x="562.43" y="643.28" font-size="13.10" fill="#000" textLength="6.24" lengthAdjust="spacingAndGlyphs" >4</text><text x="568.93" y="643.28" font-size="13.10" fill="#000" textLength="6.24" lengthAdjust="spacingAndGlyphs" >2</text>
<text x="164.52" y="693.40" font-size="13.00" fill="#000" textLength="5.76" lengthAdjust="spacingAndGlyphs" >0</text>
<text x="196.26" y="693.40" font-size="13.00" fill="#000" textLength="5.76" lengthAdjust="spacingAndGlyphs" >2</text>
<text x="228.00" y="693.40" font-size="13.00" fill="#000" textLength="5.76" lengthAdjust="spacingAndGlyphs" >4</text>
<text x="259.74" y="693.40" font-size="13.00" fill="#000" textLength="5.76" lengthAdjust="spacingAndGlyphs" >6</text>
<text x="291.48" y="693.40" font-size="13.00" fill="#000" textLength="5.76" lengthAdjust="spacingAndGlyphs" >8</text>
<text x="320.22" y="693.40" font-size="13.00" fill="#000" textLength="5.76" lengthAdjust="spacingAndGlyphs" >1</text><text x="326.22" y="693.40" font-size="13.00" fill="#000" textLength="5.76" lengthAdjust="spacingAndGlyphs" >0</text>
<text x="351.96" y="693.40" font-size="13.00" fill="#000" textLength="5.76" lengthAdjust="spacingAndGlyphs" >1</text><text x="357.96" y="693.40" font-size="13.00" fill="#000" textLength="5.76" lengthAdjust="spacingAndGlyphs" >2</text>
<text x="383.70" y="693.40" font-size="13.00" fill="#000" textLength="5.76" lengthAdjust="spacingAndGlyphs" >1</text><text x="389.70" y="693.40" font-size="13.00" fill="#000" textLength="5.76" lengthAdjust="spacingAndGlyphs" >4</text>
<text x="415.44" y="693.40" font-size="13.00" fill="#000" textLength="5.76" lengthAdjust="spacingAndGlyphs" >1</text><text x="421.44" y="693.40" font-size="13.00" fill="#000" textLength="5.76" lengthAdjust="spacingAndGlyphs" >6</text>
<text x="447.18" y="693.40" font-size="13.00" fill="#000" textLength="5.76" lengthAdjust="spacingAndGlyphs" >1</text><text x="453.18" y="693.40" font-size="13.00" fill="#000" textLength="5.76" lengthAdjust="spacingAndGlyphs" >8</text>
<text x="478.92" y="693.40" font-size="13.00" fill="#000" textLength="5.76" lengthAdjust="spacingAndGlyphs" >2</text><text x="484.92" y="693.40" font-size="13.00" fill="#000" textLength="5.76" lengthAdjust="spacingAndGlyphs" >0</text>
<text x="250.71 269.89 289.09 300.67 309.99 328.61 340.19 350.07 359.95 368.69 409.35 417.53 427.97 438.99 466.93 477.95 508.15 527.91" y="14.70" font-size="20.50" fill="#000" >rsal-allistestarlt</text><text x="239.50" y="14.70" font-size="20.50" fill="#000" textLength="9.48" lengthAdjust="spacingAndGlyphs" >K</text><text x="259.26" y="14.70" font-size="20.50" fill="#000" textLength="9.48" lengthAdjust="spacingAndGlyphs" >u</text><text x="279.02" y="14.70" font-size="20.50" fill="#000" textLength="9.48" lengthAdjust="spacingAndGlyphs" >k</text><text x="318.54" y="14.70" font-size="20.50" fill="#000" textLength="9.48" lengthAdjust="spacingAndGlyphs" >W</text><text x="387.70" y="14.70" font-size="20.50" fill="#000" textLength="9.48" lengthAdjust="spacingAndGlyphs" >H</text><text x="456.86" y="14.70" font-size="20.50" fill="#000" textLength="9.48" lengthAdjust="spacingAndGlyphs" >b</text><text x="496.38" y="14.70" font-size="20.50" fill="#000" textLength="9.48" lengthAdjust="spacingAndGlyphs" >p</text><text x="516.14" y="14.70" font-size="20.50" fill="#000" textLength="9.48" lengthAdjust="spacingAndGlyphs" >o</text>
<text x="277.40 283.80 310.10 335.70 342.45 348.85 367.35 374.10 386.90" y="718.50" font-size="12.60" fill="#000" >earrtis()</text><text x="270.73" y="718.50" font-size="12.60" fill="#000" textLength="6.14" lengthAdjust="spacingAndGlyphs" >M</text><text x="289.93" y="718.50" font-size="12.60" fill="#000" textLength="6.14" lengthAdjust="spacingAndGlyphs" >n</text><text x="302.73" y="718.50" font-size="12.60" fill="#000" textLength="6.14" lengthAdjust="spacingAndGlyphs" >p</text><text x="315.53" y="718.50" font-size="12.60" fill="#000" textLength="6.14" lengthAdjust="spacingAndGlyphs" >o</text><text x="321.93" y="718.50" font-size="12.60" fill="#000" textLength="6.14" lengthAdjust="spacingAndGlyphs" >p</text><text x="328.33" y="718.50" font-size="12.60" fill="#000" textLength="6.14" lengthAdjust="spacingAndGlyphs" >o</text><text x="353.93" y="718.50" font-size="12.60" fill="#000" textLength="6.14" lengthAdjust="spacingAndGlyphs" >o</text><text x="360.33" y="718.50" font-size="12.60" fill="#000" textLength="6.14" lengthAdjust="spacingAndGlyphs" >n</text><text x="379.53" y="718.50" font-size="12.60" fill="#000" textLength="6.14" lengthAdjust="spacingAndGlyphs" >%</text>
<g transform="translate(635.6,334.6) rotate(90)"><text x="20.02" y="0.00" font-size="14.60" fill="#000" stroke="#000" stroke-width="0.08">l</text><text x="0.13" y="0.00" font-size="14.60" fill="#000" textLength="6.05" lengthAdjust="spacingAndGlyphs" stroke="#000" stroke-width="0.08">P</text><text x="6.43" y="0.00" font-size="14.60" fill="#000" textLength="6.05" lengthAdjust="spacingAndGlyphs" stroke="#000" stroke-width="0.08">v</text><text x="12.73" y="0.00" font-size="14.60" fill="#000" textLength="6.05" lengthAdjust="spacingAndGlyphs" stroke="#000" stroke-width="0.08">a</text><text x="25.33" y="0.00" font-size="14.60" fill="#000" textLength="6.05" lengthAdjust="spacingAndGlyphs" stroke="#000" stroke-width="0.08">u</text><text x="31.63" y="0.00" font-size="14.60" fill="#000" textLength="6.05" lengthAdjust="spacingAndGlyphs" stroke="#000" stroke-width="0.08">e</text></g>
<text x="664.98" y="27.00" font-size="12.80" fill="#000" >J</text><text x="658.82" y="27.00" font-size="12.80" fill="#000" textLength="5.62" lengthAdjust="spacingAndGlyphs" >G</text><text x="670.52" y="27.00" font-size="12.80" fill="#000" textLength="5.62" lengthAdjust="spacingAndGlyphs" >2</text>
<text x="664.98" y="44.87" font-size="12.80" fill="#000" >J</text><text x="658.82" y="44.87" font-size="12.80" fill="#000" textLength="5.62" lengthAdjust="spacingAndGlyphs" >G</text><text x="670.52" y="44.87" font-size="12.80" fill="#000" textLength="5.62" lengthAdjust="spacingAndGlyphs" >5</text>
<text x="664.98" y="62.74" font-size="12.80" fill="#000" >J</text><text x="658.82" y="62.74" font-size="12.80" fill="#000" textLength="5.62" lengthAdjust="spacingAndGlyphs" >G</text><text x="670.52" y="62.74" font-size="12.80" fill="#000" textLength="5.62" lengthAdjust="spacingAndGlyphs" >1</text><text x="676.37" y="62.74" font-size="12.80" fill="#000" textLength="5.62" lengthAdjust="spacingAndGlyphs" >0</text>
<text x="664.98" y="80.61" font-size="12.80" fill="#000" >J</text><text x="658.82" y="80.61" font-size="12.80" fill="#000" textLength="5.62" lengthAdjust="spacingAndGlyphs" >G</text><text x="670.52" y="80.61" font-size="12.80" fill="#000" textLength="5.62" lengthAdjust="spacingAndGlyphs" >1</text><text x="676.37" y="80.61" font-size="12.80" fill="#000" textLength="5.62" lengthAdjust="spacingAndGlyphs" >5</text>
<text x="664.98" y="98.48" font-size="12.80" fill="#000" >J</text><text x="658.82" y="98.48" font-size="12.80" fill="#000" textLength="5.62" lengthAdjust="spacingAndGlyphs" >G</text><text x="670.52" y="98.48" font-size="12.80" fill="#000" textLength="5.62" lengthAdjust="spacingAndGlyphs" >1</text><text x="676.37" y="98.48" font-size="12.80" fill="#000" textLength="5.62" lengthAdjust="spacingAndGlyphs" >8</text>
</g></svg>
</body></html>
